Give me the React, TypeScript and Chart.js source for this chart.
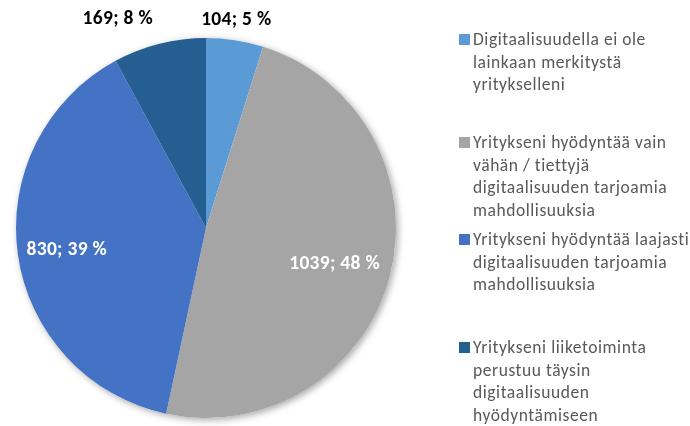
import React, { useEffect, useRef } from "react";
import { Chart, registerables } from "chart.js";

Chart.register(...registerables);

const categories = [
  "Digitaalisuudella ei ole lainkaan merkitystä yritykselleni",
  "Yritykseni hyödyntää vain vähän / tiettyjä digitaalisuuden tarjoamia mahdollisuuksia",
  "Yritykseni hyödyntää laajasti digitaalisuuden tarjoamia mahdollisuuksia",
  "Yritykseni liiketoiminta perustuu täysin digitaalisuuden hyödyntämiseen",
];
const legendLines = [
  ["Digitaalisuudella ei ole", "lainkaan merkitystä", "yritykselleni"],
  ["Yritykseni hyödyntää vain", "vähän / tiettyjä", "digitaalisuuden tarjoamia", "mahdollisuuksia"],
  ["Yritykseni hyödyntää laajasti", "digitaalisuuden tarjoamia", "mahdollisuuksia"],
  ["Yritykseni liiketoiminta", "perustuu täysin", "digitaalisuuden", "hyödyntämiseen"],
];
const values = [104, 1039, 830, 169];
const percents = [5, 48, 39, 8];
const colors = ["#5B9BD5", "#A5A5A5", "#4472C4", "#255E91"];

// label styling: radius factor, nudges, colour
const labelStyle = [
  { r: 1.12, dx: -2, dy: 2, color: "#000000" },
  { r: 0.7, dx: 0, dy: 2, color: "#FFFFFF" },
  { r: 0.74, dx: 0, dy: 2, color: "#FFFFFF" },
  { r: 1.12, dx: -36, dy: -3, color: "#000000" },
];
const legendTops = [40, 143, 240, 348];

const FONT = "Carlito, Lato, 'Open Sans', sans-serif";

const shadowPlugin = {
  id: "pieShadow",
  beforeDatasetsDraw(chart: any) {
    const arc = chart.getDatasetMeta(0).data[0];
    if (!arc) return;
    const ctx = chart.ctx;
    ctx.save();
    ctx.shadowColor = "rgba(0,0,0,0.35)";
    ctx.shadowBlur = 7;
    ctx.shadowOffsetX = 2;
    ctx.shadowOffsetY = 2;
    ctx.fillStyle = "#ffffff";
    ctx.beginPath();
    ctx.arc(arc.x, arc.y, arc.outerRadius, 0, Math.PI * 2);
    ctx.fill();
    ctx.restore();
  },
};

const labelPlugin = {
  id: "sliceLabels",
  afterDatasetsDraw(chart: any) {
    const meta = chart.getDatasetMeta(0);
    const ctx = chart.ctx;
    ctx.save();
    ctx.font = `bold 19.5px ${FONT}`;
    try {
      (ctx as any).letterSpacing = "0.3px";
    } catch (e) {}
    ctx.textAlign = "center";
    ctx.textBaseline = "middle";
    meta.data.forEach((arc: any, i: number) => {
      const mid = (arc.startAngle + arc.endAngle) / 2;
      const st = labelStyle[i];
      const x = arc.x + Math.cos(mid) * arc.outerRadius * st.r + st.dx;
      const y = arc.y + Math.sin(mid) * arc.outerRadius * st.r + st.dy;
      ctx.fillStyle = st.color;
      ctx.fillText(`${values[i]}; ${percents[i]} %`, x, y);
    });
    ctx.restore();
  },
};

export default function App() {
  const ref = useRef<HTMLCanvasElement>(null);
  useEffect(() => {
    document.body.style.margin = "0";
    const chart = new Chart(ref.current!, {
      type: "pie",
      data: {
        labels: categories,
        datasets: [
          {
            data: values,
            backgroundColor: colors,
            borderWidth: 0,
          },
        ],
      },
      options: {
        responsive: false,
        animation: false,
        layout: { padding: { left: 16, top: 38, right: 294, bottom: 8 } },
        plugins: {
          legend: { display: false },
          tooltip: { enabled: false },
        },
      },
      plugins: [shadowPlugin, labelPlugin],
    });
    return () => chart.destroy();
  }, []);

  return (
    <div style={{ position: "fixed", left: 0, top: 0, width: 690, height: 426, background: "#fff", overflow: "hidden" }}>
      <canvas ref={ref} width={690} height={426} style={{ position: "absolute", left: 0, top: 0 }} />
      {legendLines.map((lines, i) => (
        <div
          key={i}
          style={{
            position: "absolute",
            left: 459,
            top: legendTops[i] - 12,
            fontFamily: FONT,
            fontSize: 17.5,
            letterSpacing: "0.55px",
            lineHeight: "22.5px",
            color: "#595959",
            whiteSpace: "nowrap",
          }}
        >
          <span
            style={{
              position: "absolute",
              left: 0,
              top: 6,
              width: 11,
              height: 11,
              background: colors[i],
            }}
          />
          <div style={{ marginLeft: 14 }}>
            {lines.map((l, j) => (
              <div key={j}>{l}</div>
            ))}
          </div>
        </div>
      ))}
    </div>
  );
}
